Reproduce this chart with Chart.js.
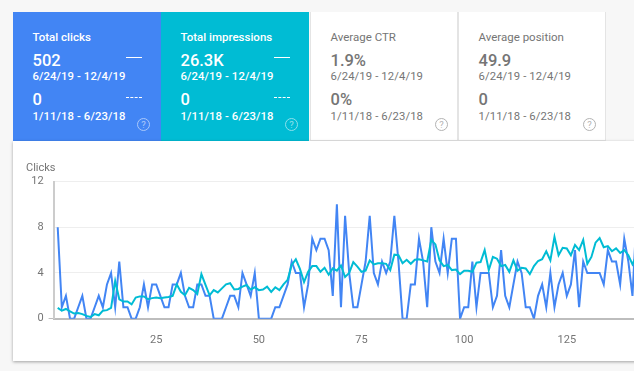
<!DOCTYPE html>
<html lang="en">

<head>
    <meta charset="UTF-8">
    <title>Search performance</title>
    <script src="https://cdn.jsdelivr.net/npm/chart.js"></script>
    <style>
        html, body { margin: 0; width: 634px; height: 371px; overflow: hidden; background: #f7f7f7; font-family: Roboto, sans-serif; }
        .card { position: absolute; top: 12px; height: 129px; width: 148px; box-sizing: border-box; color: #757575; background: #fff; border: 1px solid #e4e4e4; border-top: 0; }
        .card.on { color: #fff; border: 0; }
        .card div, .card i { position: absolute; left: 19.5px; white-space: nowrap; line-height: 14px; }
        .card .name { top: 18px; font-size: 11.5px; }
        .card.on .name { font-weight: 500; }
        .card .val { font-size: 16.5px; font-weight: 500; line-height: 18px; }
        .card .date { font-size: 11.3px; letter-spacing: 0.1px; }
        .card.on .date { font-weight: 500; }
        .card .dash { left: 113px; width: 16px; height: 0; border-top: 1.5px solid #fff; }
        .card .dash.old { border-top-style: dashed; }
        .card .help { left: 124px; top: 106px; width: 11px; height: 11px; border: 1px solid currentColor; border-radius: 50%; text-align: center; font-size: 9.5px; line-height: 11px; opacity: 0.55; }
        #plot { position: absolute; left: 13px; top: 141px; width: 640px; height: 220px; background: #fff; box-shadow: 0 1px 3px rgba(0, 0, 0, 0.35); }
        #plot span { position: absolute; left: 13px; top: 20px; font-size: 11px; color: #757575; }
    </style>
</head>

<body>
    <div id="cards"></div>
    <div id="plot">
        <span>Clicks</span>
        <canvas id="chart" width="640" height="220"></canvas>
    </div>
    <script>
        // Cards along the top
        const cardNames = ['Total clicks', 'Total impressions', 'Average CTR', 'Average position'];
        const currentValues = ['502', '26.3K', '1.9%', '49.9'];
        const previousValues = ['0', '0', '0%', '0'];
        const currentRange = '6/24/19 - 12/4/19';
        const previousRange = '1/11/18 - 6/23/18';

        // Chart data
        const xTickValues = [25, 50, 75, 100, 125];
        const yTickValues = [0, 4, 8, 12];
        const clicks = [
            8, 1, 2, 0, 0, 1, 2, 0, 0, 1, 2, 1, 3, 4, 1, 5, 1, 1, 0, 0, 1, 3, 1, 3,
            3, 2, 1, 1, 3, 3, 4, 2, 1, 1, 3, 3, 2, 2, 0, 0, 0, 1, 2, 2, 1, 4, 3, 2,
            4, 0, 0, 0, 0, 1, 1, 2, 3, 5, 4, 4, 1, 3, 7, 6, 7, 7, 6, 2, 10, 1, 9, 4,
            1, 1, 3, 5, 9, 4, 3, 5, 4, 5, 9, 5, 0, 0, 3, 3, 7, 5, 1, 8, 5, 4, 7, 4,
            7, 7, 0, 1, 1, 5, 1, 4, 4, 4, 1, 2, 6, 2, 1, 3, 5, 4, 1, 1, 0, 2, 3, 1,
            4, 1, 3, 4, 2, 3, 6, 1, 5, 4, 4, 4, 4, 3, 6, 5, 5, 3, 7, 5, 2, 9, 4, 3
        ];
        const impressions = [
            0.95, 0.7, 0.85, 0.65, 0.45, 0.5, 0.4, 0.25, 0.15, 0.4, 0.3, 0.7,
            0.75, 0.95, 3.3, 1.7, 1.5, 1.5, 1.25, 1.85, 1.95, 1.95, 1.7, 1.8,
            1.85, 1.8, 1.85, 1.9, 2, 3, 2.35, 2.05, 2.7, 2.5, 2.15, 3.9,
            2.95, 2.05, 2.5, 2.3, 2.65, 3, 3.1, 2.55, 2.6, 2.8, 2.95, 2.55,
            2.75, 2.5, 2.55, 2.8, 2.35, 2.75, 2.5, 3, 3.4, 4.7, 5.2, 4.35,
            3.2, 4.1, 4.6, 4.6, 4.1, 4.45, 3.85, 4.4, 4.2, 4.65, 3.65, 4,
            4.95, 4.55, 4.1, 4.2, 5.1, 4.75, 4.85, 4.85, 4.8, 4.25, 5.6, 5.55,
            4.85, 5.15, 4.8, 5.15, 5.2, 5.1, 5, 6.9, 6.5, 5.1, 4.6, 4.7,
            4.25, 4.3, 3.9, 4.2, 4.2, 4.1, 4.9, 4.95, 6, 4.25, 5.4, 5.25,
            4.6, 4.7, 4.1, 5.1, 4.2, 4.45, 4.4, 3.9, 4.6, 5.05, 5.2, 5.9,
            5.1, 7.15, 5.55, 6.2, 6.15, 5.55, 6.45, 6, 6.9, 4.8, 5.4, 6.65,
            7.05, 6.25, 6.35, 5.9, 6.15, 5.75, 6, 5.55, 4.75, 5.55, 6.45, 6.25
        ];

        // Build the cards
        const cardColors = ['#4285f4', '#00bcd4'];
        cardNames.forEach((name, i) => {
            const on = i < 2;
            const left = [13, 161, 310, 458][i];
            const bg = on ? `background:${cardColors[i]};` : '';
            const marks = on ? '<i class="dash" style="top:44.5px"></i><i class="dash old" style="top:84.5px"></i>' : '';
            document.getElementById('cards').innerHTML += `
                <section class="card ${on ? 'on' : ''}" style="left:${left}px;${bg}">
                    <div class="name">${name}</div>
                    <div class="val" style="top:40px">${currentValues[i]}</div>
                    <div class="date" style="top:58px">${currentRange}</div>
                    <div class="val" style="top:79px">${previousValues[i]}</div>
                    <div class="date" style="top:98px">${previousRange}</div>
                    ${marks}<i class="help" style="font-style:normal">?</i>
                </section>`;
        });

        // Chart
        const tickFont = { family: 'Roboto', size: 11 };
        new Chart(document.getElementById('chart'), {
            type: 'line',
            data: {
                datasets: [
                    { label: 'Impressions', data: impressions.map((y, i) => ({ x: i + 1, y })), borderColor: '#00bcd4' },
                    { label: 'Clicks', data: clicks.map((y, i) => ({ x: i + 1, y })), borderColor: '#4285f4' }
                ]
            },
            options: {
                responsive: false,
                animation: false,
                layout: { padding: { top: 40.5 } },
                elements: { point: { radius: 0 }, line: { borderWidth: 2, tension: 0 } },
                plugins: { legend: { display: false }, tooltip: { enabled: false } },
                scales: {
                    x: {
                        type: 'linear', min: 0, max: 146,
                        afterBuildTicks: axis => { axis.ticks = xTickValues.map(value => ({ value })); },
                        afterFit: axis => { axis.height = 42.3; },
                        grid: { display: false },
                        border: { color: '#bdbdbd', width: 2 },
                        ticks: { font: tickFont, color: '#757575', maxRotation: 0, padding: 7 }
                    },
                    y: {
                        min: 0, max: 12,
                        afterBuildTicks: axis => { axis.ticks = yTickValues.map(value => ({ value })); },
                        afterFit: axis => { axis.width = 40.6; },
                        grid: {
                            color: c => c.tick.value === 0 ? 'transparent' : '#eeeeee',
                            tickColor: c => c.tick.value === 0 ? '#bdbdbd' : 'transparent',
                            tickLength: 5
                        },
                        border: { color: '#cccccc', width: 2 },
                        ticks: { font: tickFont, color: '#757575', padding: 5 }
                    }
                }
            }
        });
    </script>
</body>

</html>
